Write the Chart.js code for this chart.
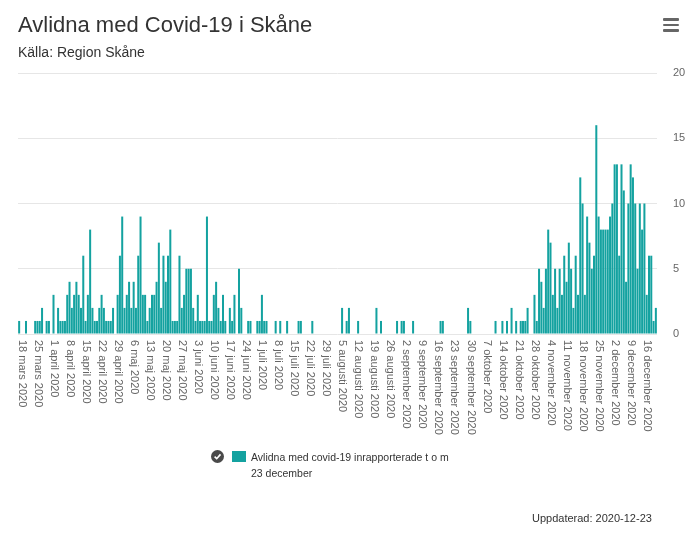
<!DOCTYPE html>
<html lang="sv">
<head>
<meta charset="utf-8">
<title>Avlidna med Covid-19 i Skåne</title>
<script src="https://cdn.jsdelivr.net/npm/chart.js@4.4.1/dist/chart.umd.min.js"></script>
<style>
    html, body { margin: 0; padding: 0; background: #fff; }
    body { font-family: 'Liberation Sans', Arial, Helvetica, sans-serif; color: #333; }
    #wrap { position: relative; width: 700px; height: 534px; overflow: hidden; }
    #chart { position: absolute; left: 0; top: 0; }
    .title { position: absolute; left: 18px; top: 14px; font-size: 22px; line-height: 22px; color: #333; white-space: nowrap; }
    .subtitle { position: absolute; left: 18px; top: 45px; font-size: 14px; line-height: 14px; color: #333; white-space: nowrap; }
    .menu { position: absolute; left: 663px; top: 18px; width: 16px; height: 14px; }
    .menu span { display: block; height: 2.5px; background: #666; border-radius: 1px; margin-bottom: 3px; }
    .legend { position: absolute; left: 211px; top: 449px; }
    .legend .check { position: absolute; left: 0; top: 1px; width: 13px; height: 13px; }
    .legend .swatch { position: absolute; left: 21px; top: 2px; width: 14px; height: 11px; background: #14a2a0; }
    .legend .text { position: absolute; left: 40px; top: 0; font-size: 10.5px; line-height: 16px; color: #333; white-space: nowrap; }
    .credits { position: absolute; left: 532px; top: 511px; font-size: 11px; line-height: 14px; color: #333; white-space: nowrap; }
</style>
</head>
<body>
<div id="wrap">
    <canvas id="chart" width="700" height="534"></canvas>
    <div class="title">Avlidna med Covid-19 i Skåne</div>
    <div class="subtitle">Källa: Region Skåne</div>
    <div class="menu"><span></span><span></span><span></span></div>
    <div class="legend">
        <svg class="check" viewBox="0 0 13 13"><circle cx="6.5" cy="6.5" r="6.5" fill="#4a4a4a"/><path d="M3.6 6.7 L5.7 8.7 L9.5 4.4" stroke="#fff" stroke-width="1.6" fill="none"/></svg>
        <div class="swatch"></div>
        <div class="text">Avlidna med covid-19 inrapporterade t o m<br>23 december</div>
    </div>
    <div class="credits">Uppdaterad: 2020-12-23</div>
</div>
<script>
// one label per week, first day of each row below
const weekLabels = [
    '18 mars 2020', '25 mars 2020', '1 april 2020', '8 april 2020', '15 april 2020',
    '22 april 2020', '29 april 2020', '6 maj 2020', '13 maj 2020', '20 maj 2020',
    '27 maj 2020', '3 juni 2020', '10 juni 2020', '17 juni 2020', '24 juni 2020',
    '1 juli 2020', '8 juli 2020', '15 juli 2020', '22 juli 2020', '29 juli 2020',
    '5 augusti 2020', '12 augusti 2020', '19 augusti 2020', '26 augusti 2020', '2 september 2020',
    '9 september 2020', '16 september 2020', '23 september 2020', '30 september 2020', '7 oktober 2020',
    '14 oktober 2020', '21 oktober 2020', '28 oktober 2020', '4 november 2020', '11 november 2020',
    '18 november 2020', '25 november 2020', '2 december 2020', '9 december 2020', '16 december 2020'
];

// avlidna per dag, 18 mars - 21 december (en rad per vecka)
const deaths = [
    1, 0, 0, 1, 0, 0, 0,
    1, 1, 1, 2, 0, 1, 1,
    0, 3, 0, 2, 1, 1, 1,
    3, 4, 2, 3, 4, 3, 2,
    6, 1, 3, 8, 2, 1, 1,
    2, 3, 2, 1, 1, 1, 2,
    0, 3, 6, 9, 2, 3, 4,
    2, 4, 2, 6, 9, 3, 3,
    1, 2, 3, 3, 4, 7, 2,
    6, 4, 6, 8, 1, 1, 1,
    6, 2, 3, 5, 5, 5, 2,
    1, 3, 1, 1, 1, 9, 1,
    1, 3, 4, 2, 1, 3, 1,
    0, 2, 1, 3, 0, 5, 2,
    0, 0, 1, 1, 0, 0, 1,
    1, 3, 1, 1, 0, 0, 0,
    1, 0, 1, 0, 0, 1, 0,
    0, 0, 0, 1, 1, 0, 0,
    0, 0, 1, 0, 0, 0, 0,
    0, 0, 0, 0, 0, 0, 0,
    0, 2, 0, 1, 2, 0, 0,
    0, 1, 0, 0, 0, 0, 0,
    0, 0, 2, 0, 1, 0, 0,
    0, 0, 0, 0, 1, 0, 1,
    1, 0, 0, 0, 1, 0, 0,
    0, 0, 0, 0, 0, 0, 0,
    0, 0, 1, 1, 0, 0, 0,
    0, 0, 0, 0, 0, 0, 0,
    2, 1, 0, 0, 0, 0, 0,
    0, 0, 0, 0, 0, 1, 0,
    0, 1, 0, 1, 0, 2, 0,
    1, 0, 1, 1, 1, 2, 0,
    0, 3, 1, 5, 4, 2, 5,
    8, 7, 3, 5, 2, 5, 3,
    6, 4, 7, 5, 2, 6, 3,
    12, 10, 3, 9, 7, 5, 6,
    16, 9, 8, 8, 8, 8, 9,
    10, 13, 13, 6, 13, 11, 4,
    10, 13, 12, 10, 5, 10, 8,
    10, 3, 6, 6, 1, 2
];

const yTicks = [0, 5, 10, 15, 20];

const FONT = "'Liberation Sans', Arial, Helvetica, sans-serif";

// a category for every day, only the first day of a week carries text
const categories = deaths.map((v, i) => (i % 7 === 0 ? weekLabels[i / 7] : ''));

// x labels read top to bottom, so they are drawn here instead of by the scale
const verticalLabels = {
    id: 'verticalLabels',
    afterDraw(chart) {
        const ctx = chart.ctx;
        const xScale = chart.scales.x;
        ctx.save();
        ctx.font = '11px ' + FONT;
        ctx.fillStyle = '#666';
        ctx.textAlign = 'left';
        ctx.textBaseline = 'middle';
        categories.forEach((label, i) => {
            if (!label) return;
            const x = xScale.getPixelForValue(i) + 2.5;
            ctx.save();
            ctx.translate(x, 340);
            ctx.rotate(Math.PI / 2);
            ctx.fillText(label, 0, 0);
            ctx.restore();
        });
        ctx.restore();
    }
};

function initChart() {
    const ctx = document.getElementById('chart');
    new Chart(ctx, {
        type: 'bar',
        data: {
            labels: categories,
            datasets: [{
                label: 'Avlidna med covid-19 inrapporterade t o m 23 december',
                data: deaths,
                backgroundColor: '#14a2a0',
                borderWidth: 0,
                categoryPercentage: 0.88,
                barPercentage: 1
            }]
        },
        options: {
            responsive: false,
            animation: false,
            layout: { padding: { left: 18, top: 73, right: 0, bottom: 0 } },
            plugins: {
                legend: { display: false },
                tooltip: { enabled: false }
            },
            scales: {
                x: {
                    grid: { display: false },
                    border: { display: false },
                    ticks: { display: false },
                    afterFit(scale) { scale.height = 200; }
                },
                y: {
                    position: 'right',
                    min: 0,
                    max: 20,
                    afterBuildTicks(scale) { scale.ticks = yTicks.map(v => ({ value: v })); },
                    grid: { color: '#e6e6e6', drawTicks: false },
                    border: { display: false },
                    ticks: {
                        padding: 16,
                        color: '#666',
                        font: { family: FONT, size: 11 }
                    },
                    afterFit(scale) { scale.width = 43; }
                }
            }
        },
        plugins: [verticalLabels]
    });
}

document.addEventListener('DOMContentLoaded', () => {
    initChart();
});
</script>
</body>
</html>
